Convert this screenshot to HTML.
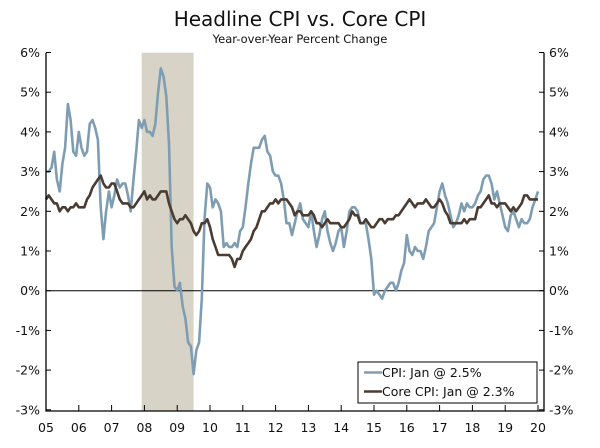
<!DOCTYPE html>
<html><head><meta charset="utf-8"><style>
body{margin:0;background:#fff;font-family:"Liberation Sans",sans-serif}
svg text{font-family:"DejaVu Sans","Liberation Sans",sans-serif}
</style></head><body>
<svg id="c" width="600" height="443" xmlns="http://www.w3.org/2000/svg">
<text x="300" y="26" text-anchor="middle" font-size="20" fill="#111">Headline CPI vs. Core CPI</text>
<text x="300" y="43" text-anchor="middle" font-size="11.5" fill="#111">Year-over-Year Percent Change</text>
<g id="g"></g>
</svg>
<script>
const yTicks=[6,5,4,3,2,1,0,-1,-2,-3];
const xLabels=["05","06","07","08","09","10","11","12","13","14","15","16","17","18","19","20"];
const recession=[2007.917,2009.5];
const cpi=[3.0,3.0,3.1,3.5,2.8,2.5,3.2,3.6,4.7,4.3,3.5,3.4,
4.0,3.6,3.4,3.5,4.2,4.3,4.1,3.8,2.1,1.3,2.0,2.5,
2.1,2.4,2.8,2.6,2.7,2.7,2.4,2.0,2.8,3.5,4.3,4.1,
4.3,4.0,4.0,3.9,4.2,5.0,5.6,5.4,4.9,3.7,1.1,0.1,
0.0,0.2,-0.4,-0.7,-1.3,-1.4,-2.1,-1.5,-1.3,-0.2,1.8,2.7,
2.6,2.1,2.3,2.2,2.0,1.1,1.2,1.1,1.1,1.2,1.1,1.5,
1.6,2.1,2.7,3.2,3.6,3.6,3.6,3.8,3.9,3.5,3.4,3.0,
2.9,2.9,2.7,2.3,1.7,1.7,1.4,1.7,2.0,2.2,1.8,1.7,
1.6,2.0,1.5,1.1,1.4,1.8,2.0,1.5,1.2,1.0,1.2,1.5,
1.6,1.1,1.5,2.0,2.1,2.1,2.0,1.7,1.7,1.7,1.3,0.8,
-0.1,0.0,-0.1,-0.2,0.0,0.1,0.2,0.2,0.0,0.2,0.5,0.7,
1.4,1.0,0.9,1.1,1.0,1.0,0.8,1.1,1.5,1.6,1.7,2.1,
2.5,2.7,2.4,2.2,1.9,1.6,1.7,1.9,2.2,2.0,2.2,2.1,
2.1,2.2,2.4,2.5,2.8,2.9,2.9,2.7,2.3,2.5,2.2,1.9,
1.6,1.5,1.9,2.0,1.8,1.6,1.8,1.7,1.7,1.8,2.1,2.3,2.5];
const core=[2.3,2.4,2.3,2.2,2.2,2.0,2.1,2.1,2.0,2.1,2.1,2.2,
2.1,2.1,2.1,2.3,2.4,2.6,2.7,2.8,2.9,2.7,2.6,2.6,
2.7,2.7,2.5,2.3,2.2,2.2,2.2,2.1,2.1,2.2,2.3,2.4,
2.5,2.3,2.4,2.3,2.3,2.4,2.5,2.5,2.5,2.2,2.0,1.8,
1.7,1.8,1.8,1.9,1.8,1.7,1.5,1.4,1.5,1.7,1.7,1.8,
1.6,1.3,1.1,0.9,0.9,0.9,0.9,0.9,0.8,0.6,0.8,0.8,
1.0,1.1,1.2,1.3,1.5,1.6,1.8,2.0,2.0,2.1,2.2,2.2,
2.3,2.2,2.3,2.3,2.3,2.2,2.1,1.9,2.0,2.0,1.9,1.9,
1.9,2.0,1.9,1.7,1.7,1.6,1.7,1.8,1.7,1.7,1.7,1.7,
1.6,1.6,1.7,1.8,2.0,1.9,1.9,1.7,1.7,1.8,1.7,1.6,
1.6,1.7,1.8,1.8,1.7,1.8,1.8,1.8,1.9,1.9,2.0,2.1,
2.2,2.3,2.2,2.1,2.2,2.2,2.2,2.3,2.2,2.1,2.1,2.2,
2.3,2.2,2.0,1.9,1.7,1.7,1.7,1.7,1.7,1.8,1.7,1.8,
1.8,1.8,2.1,2.1,2.2,2.3,2.4,2.2,2.2,2.1,2.2,2.2,
2.2,2.1,2.0,2.1,2.0,2.1,2.2,2.4,2.4,2.3,2.3,2.3,2.3];
const L=46,R=544,T=52.7,B=411;
const xs=t=>L+(t-2005)*32.8;
const ys=v=>290.7-v*39.7;
const NS="http://www.w3.org/2000/svg";
const g=document.getElementById('g');
function mk(tag,attrs){const e=document.createElementNS(NS,tag);for(const k in attrs)e.setAttribute(k,attrs[k]);g.appendChild(e);return e;}
let e=mk('rect',{x:xs(recession[0]),y:T,width:xs(recession[1])-xs(recession[0]),height:B-T,fill:'#d8d3c7'});


e=mk('line',{x1:L,x2:R,y1:ys(0),y2:ys(0),stroke:'#000','stroke-width':1});


function series(arr,color,name){const p=arr.map((v,i)=>(i?'L':'M')+xs(2005+i/12).toFixed(1)+','+ys(v).toFixed(1)).join('');
const el=mk('path',{d:p,fill:'none',stroke:color,'stroke-width':2.6,'stroke-linejoin':'round'});

}
series(cpi,'#7f9db2','cpi-line');
series(core,'#4a3c32','core-cpi-line');
e=mk('path',{d:`M${L},${T}V${B}H${R}V${T}`,fill:'none',stroke:'#000','stroke-width':1.3});


yTicks.forEach(v=>{const y=ys(v);
mk('line',{x1:L,x2:L+5,y1:y,y2:y,stroke:'#000'});mk('line',{x1:R-5,x2:R,y1:y,y2:y,stroke:'#000'});
let t=mk('text',{x:L-6,y:y+4.5,'text-anchor':'end','font-size':12.5,fill:'#111'});t.textContent=v+'%';


t=mk('text',{x:R+5,y:y+4.5,'font-size':12.5,fill:'#111'});t.textContent=v+'%';

});
xLabels.forEach((s,i)=>{const x=xs(2005+i);
mk('line',{x1:x,x2:x,y1:B-6,y2:B,stroke:'#000'});
const t=mk('text',{x:x,y:432,'text-anchor':'middle','font-size':12.5,fill:'#111'});t.textContent=s;

});
e=mk('rect',{x:358,y:362,width:179,height:41,fill:'#fff',stroke:'#000','stroke-width':1});


[['#7f9db2','CPI: Jan @ 2.5%',377],['#4a3c32','Core CPI: Jan @ 2.3%',396]].forEach(([c,s,y])=>{
mk('line',{x1:364,x2:382,y1:y-4.5,y2:y-4.5,stroke:c,'stroke-width':2.6});
const t=mk('text',{x:382,y:y,'font-size':12.5,fill:'#111'});t.textContent=s;

});
</script>
</body></html>
